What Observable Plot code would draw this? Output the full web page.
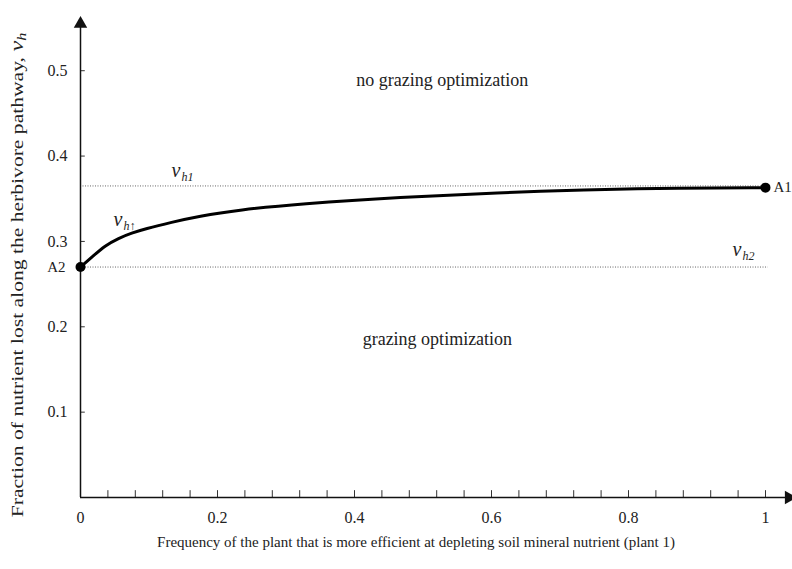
<!DOCTYPE html>
<html><head><meta charset="utf-8">
<script src="https://cdn.jsdelivr.net/npm/d3@7"></script>
<script src="https://cdn.jsdelivr.net/npm/@observablehq/plot@0.6"></script>
<style>body{margin:0;background:#fff} #chart{width:792px;height:569px}</style>
</head><body><div id="chart"></div>
<script>
// curve v_h as a function of plant-1 frequency
const freq = [0, 0.0165, 0.036, 0.0555, 0.075, 0.094, 0.133, 0.172, 0.231, 0.32, 0.467, 0.613, 0.73, 0.876, 1];
const vh   = [0.27, 0.2815, 0.2952, 0.3038, 0.310, 0.3147, 0.3225, 0.3295, 0.337, 0.344, 0.352, 0.357, 0.3605, 0.3625, 0.363];
const vh1 = 0.365;
const vh2 = 0.27;
const xTicks = [0, 0.2, 0.4, 0.6, 0.8, 1];
const xMinorTicks = [0.04,0.08,0.12,0.16,0.2,0.24,0.28,0.32,0.36,0.4,0.44,0.48,0.52,0.56,0.6,0.64,0.68,0.72,0.76,0.8,0.84,0.88,0.92,0.96,1];
const yTicks = [0.1, 0.2, 0.3, 0.4, 0.5];
const endX = [1, 0];
const endY = [0.363, 0.27];
const endLabels = ["A1", "A2"];
const regionText = ["no grazing optimization", "grazing optimization"];
const regionX = [0.528, 0.521];
const regionY = [0.489, 0.186];
const symMain = ["v", "v", "v"];
const symSub = ["h1", "h\u2191", "h2"];
const symX = [0.133, 0.048, 0.952];
const symY = [0.376, 0.3175, 0.283];
const xLabel = "Frequency of the plant that is more efficient at depleting soil mineral nutrient (plant 1)";
const yLabel = "Fraction of nutrient lost along the herbivore pathway, ";

const FONT = "'Liberation Serif', 'Times New Roman', serif";
const curve = freq.map((f, i) => ({x: f, y: vh[i]}));
const ends = endX.map((x, i) => ({x, y: endY[i], label: endLabels[i]}));
const regions = regionText.map((t, i) => ({t, x: regionX[i], y: regionY[i]}));
const syms = symMain.map((m, i) => ({m, s: symSub[i], x: symX[i], y: symY[i]}));

const chart = Plot.plot({
  width: 792, height: 569,
  marginLeft: 80, marginRight: 27, marginTop: 19, marginBottom: 72,
  x: {domain: [0, 1]},
  y: {domain: [0, 0.56]},
  style: {fontFamily: FONT, fontSize: "15px", color: "#222", background: "#fff"},
  marks: [
    Plot.axisX(xTicks, {tickSize: 0, tickPadding: 14, tickFormat: d => String(d), fontSize: 16, label: null}),
    Plot.axisY(yTicks, {tickSize: 0, tickPadding: 13, tickFormat: d => String(d), fontSize: 16, label: null}),
    Plot.ruleX(xMinorTicks, {y1: 0, y2: 0.008, stroke: "#333", strokeWidth: 1}),
    Plot.ruleY(yTicks, {x1: 0, x2: 0.007, stroke: "#333", strokeWidth: 1}),
    Plot.ruleY([vh1], {x1: 0, x2: 1, stroke: "#666", strokeWidth: 1, strokeDasharray: "1,1.5"}),
    Plot.ruleY([vh2], {x1: 0, x2: 1.004, stroke: "#666", strokeWidth: 1, strokeDasharray: "1,1.5"}),
    Plot.ruleY([0], {x1: 0, x2: 1.03, stroke: "#111", strokeWidth: 1.5}),
    Plot.ruleX([0], {y1: 0, y2: 0.552, stroke: "#111", strokeWidth: 1.5}),
    Plot.dot([{x: 1.034, y: 0}], {x: "x", y: "y", symbol: "triangle", r: 5, fill: "#111", rotate: 90}),
    Plot.dot([{x: 0, y: 0.555}], {x: "x", y: "y", symbol: "triangle", r: 5, fill: "#111"}),
    Plot.line(curve, {x: "x", y: "y", curve: "basis", stroke: "#000", strokeWidth: 3}),
    Plot.dot(ends, {x: "x", y: "y", r: 5, fill: "#000"}),
    Plot.text(ends.filter(d => d.label === "A1"), {x: "x", y: "y", text: "label", textAnchor: "start", dx: 8, fontSize: 15}),
    Plot.text(ends.filter(d => d.label === "A2"), {x: "x", y: "y", text: "label", textAnchor: "end", dx: -15, fontSize: 15}),
    Plot.text(regions, {x: "x", y: "y", text: "t", fontSize: 18}),
    Plot.text(syms, {x: "x", y: "y", text: "m", fontSize: 20, fontStyle: "italic", textAnchor: "start", lineAnchor: "bottom"}),
    Plot.text(syms, {x: "x", y: "y", text: "s", fontSize: 12, fontStyle: "italic", textAnchor: "start", lineAnchor: "bottom", dx: 10, dy: 4}),
    Plot.text([xLabel], {frameAnchor: "bottom", lineAnchor: "middle", dy: 45, dx: -7, fontSize: 15})
  ]
});
document.getElementById("chart").appendChild(chart);

const svg = d3.select(chart);
const t = svg.append("text")
  .attr("transform", "translate(23,275) rotate(-90) scale(1.35,1)")
  .attr("text-anchor", "middle")
  .attr("font-family", FONT)
  .attr("font-size", 16)
  .attr("fill", "#222");
t.append("tspan").text(yLabel);
t.append("tspan").attr("font-style", "italic").attr("font-size", 18).text("v");
t.append("tspan").attr("font-style", "italic").attr("font-size", 12).attr("dy", 3).text("h");
</script>
</body></html>
